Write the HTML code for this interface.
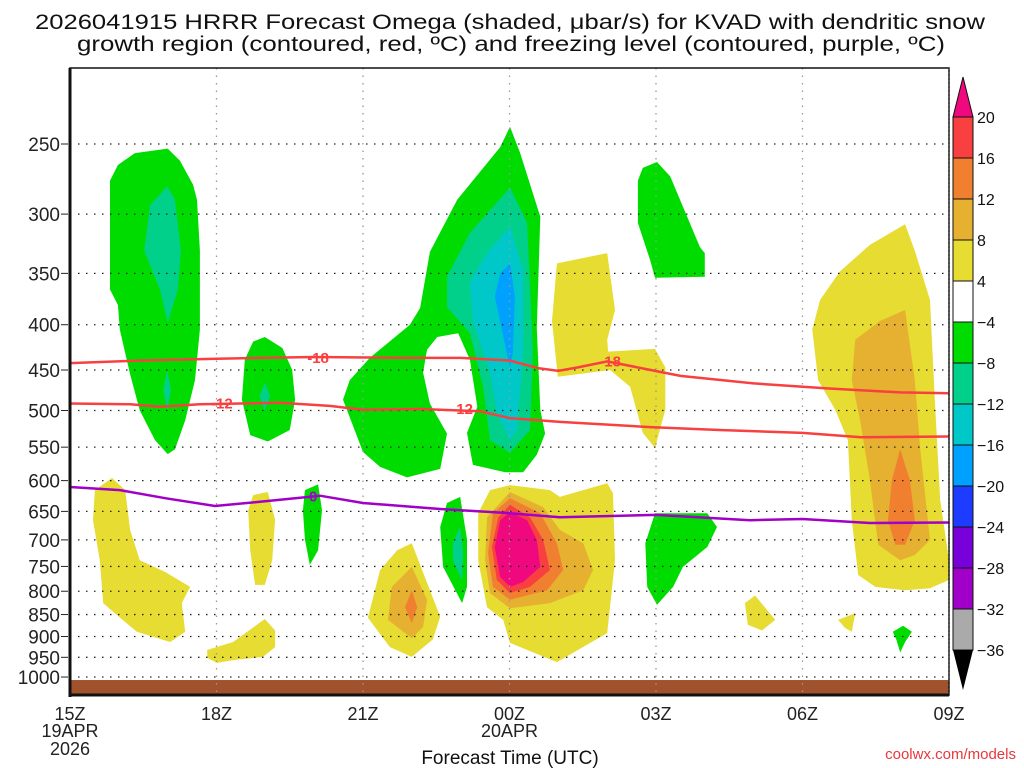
<!DOCTYPE html>
<html><head><meta charset="utf-8"><style>
html,body{margin:0;padding:0;background:#fff;}
svg{display:block;font-family:"Liberation Sans",sans-serif;}
</style></head><body>
<svg id="chart" width="1024" height="768" viewBox="0 0 1024 768" xmlns="http://www.w3.org/2000/svg">
<rect x="0" y="0" width="1024" height="768" fill="#fff"/>
<text x="510" y="29" text-anchor="middle" font-size="21" textLength="950" lengthAdjust="spacingAndGlyphs" fill="#111">2026041915 HRRR Forecast Omega (shaded, μbar/s) for KVAD with dendritic snow</text>
<text x="511" y="51" text-anchor="middle" font-size="21" textLength="868" lengthAdjust="spacingAndGlyphs" fill="#111">growth region (contoured, red, ºC) and freezing level (contoured, purple, ºC)</text>
<g id="fills"></g>
<g id="grid"></g>
<g id="lines"></g>
<g id="axes"></g>
<g id="cbar"></g>
<text x="510" y="764" text-anchor="middle" font-size="19" fill="#111">Forecast Time (UTC)</text>
<text x="1016" y="759" text-anchor="end" font-size="15" fill="#e8383c">coolwx.com/models</text>
</svg>
<script>
// ---- data ----
const pressureTicks = [250,300,350,400,450,500,550,600,650,700,750,800,850,900,950,1000];
const timeTicks = [0,3,6,9,12,15,18];
const timeLabels = ["15Z","18Z","21Z","00Z","03Z","06Z","09Z"];
const cbarLevels = ["20","16","12","8","4","\u22124","\u22128","\u221212","\u221216","\u221220","\u221224","\u221228","\u221232","\u221236"];
const cbarColors = ["#f84040","#f08030","#e6b030","#e6dc32","#ffffff","#00dc00","#00d08a","#00c8c8","#00a0ff","#1e3cff","#7800d8","#a000c8","#aaaaaa"];
const shadeColors = ["#e6dc32","#e6b030","#f08030","#f84040","#f0087e","#00dc00","#00d08a","#00c8c8","#00a0ff"];
const regionA = [[0.82,275],[0.98,264],[1.33,256],[2.0,253],[2.25,261],[2.52,278],[2.6,289],[2.66,330],[2.66,405],[2.56,462],[2.36,513],[2.15,553],[2.0,560],[1.74,540],[1.43,500],[1.23,455],[1.02,405],[0.98,380],[0.82,365]];
const regionA2 = [[1.99,279],[2.15,289],[2.27,330],[2.21,365],[2.0,398],[1.84,365],[1.52,330],[1.64,293]];
const regionA3 = [[1.99,450],[2.07,474],[1.99,499],[1.91,474]];
const regionB = [[3.58,438],[3.75,418],[3.99,413],[4.35,425],[4.55,450],[4.61,486],[4.5,526],[4.05,542],[3.69,533],[3.52,486]];
const regionB2 = [[3.99,465],[4.1,482],[3.99,500],[3.88,482]];
const regionC = [[9.01,239],[9.22,256],[9.63,302],[9.56,404],[9.63,499],[9.73,531],[9.56,561],[9.28,587],[8.91,587],[8.25,576],[8.13,530],[8.34,495],[8.19,438],[7.95,409],[7.52,413],[7.31,427],[7.23,453],[7.37,491],[7.72,531],[7.58,582],[6.9,595],[6.35,579],[6.0,557],[5.59,486],[5.73,462],[6.14,436],[6.96,400],[7.17,383],[7.37,331],[7.93,289],[8.81,252]];
const regionC2 = [[9.01,280],[9.36,307],[9.42,362],[9.48,430],[9.42,526],[9.01,558],[8.6,540],[8.46,470],[8.19,409],[7.72,382],[7.72,353],[8.19,315]];
const regionC3 = [[9.01,310],[9.28,348],[9.28,430],[9.15,526],[9.01,540],[8.74,503],[8.6,453],[8.25,396],[8.19,358],[8.54,332]];
const regionC4 = [[9.01,341],[9.11,372],[9.07,430],[9.01,447],[8.87,412],[8.7,372],[8.81,350]];
const regionD = [[12.02,262],[12.29,272],[12.9,327],[13.0,332],[13.0,353],[11.98,354],[11.88,338],[11.63,307],[11.63,275],[11.73,266]];
const regionE = [[9.97,341],[11.0,332],[11.16,385],[11.0,416],[11.02,429],[11.98,426],[12.19,447],[12.19,499],[11.98,551],[11.73,530],[11.47,470],[11.06,450],[9.99,458],[9.87,396]];
const regionF = [[15.36,375],[15.77,348],[16.38,325],[17.1,308],[17.3,330],[17.61,375],[17.71,486],[17.82,631],[18,738],[18,777],[17.61,794],[17.1,798],[16.49,791],[16.14,767],[16.01,665],[15.93,540],[15.67,499],[15.32,462],[15.2,405]];
const regionF2 = [[16.08,416],[16.59,396],[17.1,385],[17.3,462],[17.41,553],[17.61,700],[17.3,728],[17.0,738],[16.55,709],[16.38,599],[16.18,513],[16.01,462]];
const regionF3 = [[17.0,553],[17.2,599],[17.3,665],[17.1,709],[16.9,709],[16.75,665],[16.83,599]];
const regionG = [[0.51,615],[0.86,596],[1.13,615],[1.23,682],[1.43,738],[1.95,761],[2.46,791],[2.29,825],[2.36,889],[2.05,913],[1.37,889],[0.96,851],[0.68,825],[0.61,738],[0.47,665]];
const regionH = [[3.75,623],[4.05,618],[4.2,664],[4.14,738],[3.99,787],[3.79,787],[3.69,719],[3.65,648]];
const regionI = [[2.81,932],[3.34,913],[3.99,860],[4.2,886],[4.2,925],[3.95,949],[3.34,957],[3.01,964],[2.81,951]];
const regionJ = [[4.81,615],[5.08,606],[5.16,648],[5.08,719],[4.91,747],[4.81,699],[4.77,648]];
const regionK = [[7.0,706],[7.58,855],[7.43,907],[7.0,949],[6.55,925],[6.1,857],[6.35,757],[6.7,719]];
const regionK2 = [[7.0,751],[7.31,818],[7.23,878],[7.0,904],[6.51,862],[6.59,791]];
const regionK3 = [[7.0,798],[7.11,834],[7.0,869],[6.86,834]];
const regionL = [[7.99,626],[8.13,699],[8.13,791],[8.03,825],[7.64,751],[7.58,677],[7.72,636]];
const regionL2 = [[7.99,677],[8.05,725],[8.03,777],[7.84,738],[7.84,706]];
const regionM = [[8.6,615],[9.01,607],[9.83,615],[10.03,626],[11.0,604],[11.12,620],[11.16,738],[11.0,892],[9.97,962],[9.01,915],[8.87,862],[8.54,834],[8.36,738],[8.36,653]];
const regionM2 = [[9.01,618],[9.69,643],[10.03,682],[10.51,706],[10.71,757],[10.51,798],[9.83,825],[9.01,836],[8.6,804],[8.5,738],[8.54,660]];
const regionM3 = [[9.01,628],[9.63,653],[9.97,706],[10.1,757],[9.77,798],[9.01,818],[8.66,791],[8.56,725],[8.66,653]];
const regionM4 = [[9.01,639],[9.42,660],[9.69,700],[9.83,757],[9.42,791],[9.01,804],[8.74,777],[8.64,713],[8.77,660]];
const regionM5 = [[9.01,651],[9.36,665],[9.56,700],[9.63,751],[9.28,781],[9.01,791],[8.81,771],[8.7,713],[8.81,665]];
const regionN = [[11.98,653],[13.05,653],[13.25,677],[13.05,713],[12.55,751],[12.35,791],[12.02,829],[11.82,791],[11.78,706]];
const regionO = [[13.82,825],[14.03,809],[14.44,862],[14.17,886],[13.88,873]];
const regionP = [[15.73,862],[16.08,847],[16.01,889],[15.87,880]];
const regionQ = [[16.85,889],[17.06,875],[17.24,889],[17.1,913],[17.0,938],[16.92,907]];
const regionList = [
 ["upper-left-green",regionA,5],["upper-left-teal",regionA2,6],["upper-left-teal-small",regionA3,6],
 ["mid-left-green",regionB,5],["mid-left-teal",regionB2,6],
 ["central-green",regionC,5],["central-teal",regionC2,6],["central-cyan",regionC3,7],["central-blue",regionC4,8],
 ["upper-03z-green",regionD,5],["upper-yellow",regionE,0],
 ["right-yellow",regionF,0],["right-gold",regionF2,1],["right-orange",regionF3,2],
 ["lower-left-yellow",regionG,0],["small-yellow-19z",regionH,0],["bottom-yellow-18z",regionI,0],["small-green-20z",regionJ,5],
 ["yellow-22z",regionK,0],["gold-22z",regionK2,1],["orange-22z",regionK3,2],
 ["green-23z",regionL,5],["teal-23z",regionL2,6],
 ["core-yellow",regionM,0],["core-gold",regionM2,1],["core-orange",regionM3,2],["core-red",regionM4,3],["core-magenta",regionM5,4],
 ["lower-03z-green",regionN,5],["small-yellow-05z",regionO,0],["small-yellow-07z",regionP,0],["small-green-08z",regionQ,5]
];
const lineM18Hours = [0,1.5,3,5,7,8,9,9.6,10,10.4,11,11.8,12.5,14,15.5,17,18];
const lineM18Pres  = [442,439,437,435,436,436,439,448,451,447,440,449,457,466,472,477,478];
const lineM12Hours = [0,1.23,1.84,2.66,4.3,5.32,6,7.17,8.4,9,10.03,11.88,13.3,15,16.2,18];
const lineM12Pres  = [491,492,495,492,490,494,499,498,501,510,515,522,526,530,536,535];
const line0Hours = [0,1.02,1.95,2.97,3.89,5.12,6,7.58,9,10.03,12,13.93,15,16.38,18];
const line0Pres  = [610,615,628,641,634,624,636,646,653,660,656,665,663,670,669];
const lineLabels = [["-18",5.08,436,"#f84040"],["-18",11.06,440,"#f84040"],["-12",3.11,491,"#f84040"],["-12",8.03,498,"#f84040"],["0",4.98,625,"#a000c8"]];

const X0=70, X1=949, Y0=68, Y1=695;
const xs = h => X0 + (X1-X0)*h/18;
const ys = p => 144 + 384.5*Math.log(p/250);
const NS="http://www.w3.org/2000/svg";
function mk(tag, attrs, parent){const e=document.createElementNS(NS,tag);for(const k in attrs)e.setAttribute(k,attrs[k]);parent.appendChild(e);return e;}
const fills=document.getElementById('fills'), grid=document.getElementById('grid'), lines=document.getElementById('lines'), axes=document.getElementById('axes'), cbar=document.getElementById('cbar');
const clip = mk('clipPath',{id:'plotclip'},document.getElementById('chart'));
mk('rect',{x:X0,y:Y0,width:X1-X0,height:Y1-Y0},clip);
fills.setAttribute('clip-path','url(#plotclip)');
lines.setAttribute('clip-path','url(#plotclip)');

regionList.forEach(r=>{
  const el=mk('polygon',{points:r[1].map(v=>xs(v[0]).toFixed(1)+','+ys(v[1]).toFixed(1)).join(' '),fill:shadeColors[r[2]]},fills);
  
  
});
const g=mk('rect',{x:X0,y:ys(1000)+3,width:X1-X0,height:Y1-ys(1000)-3,fill:'#a0522d'},fills);



pressureTicks.forEach(p=>{
  const l=mk('line',{x1:X0,x2:X1,y1:ys(p),y2:ys(p),stroke:'#222','stroke-width':1.3,'stroke-dasharray':'1.5 6.5'},grid);
  
  
  const t=mk('text',{x:60,y:ys(p)+7,'text-anchor':'end','font-size':19,fill:'#222'},axes);
  t.textContent=p;
  
  
  const tk=mk('line',{x1:61,x2:68,y1:ys(p),y2:ys(p),stroke:'#222','stroke-width':1},axes);
  
  
});
timeTicks.forEach((h,i)=>{
  if(i>0&&i<timeTicks.length-1){
    const l=mk('line',{x1:xs(h),x2:xs(h),y1:Y0,y2:Y1,stroke:'#999','stroke-width':1.3,'stroke-dasharray':'1.5 6'},grid);
    
    
  }
  const t=mk('text',{x:xs(h),y:720,'text-anchor':'middle','font-size':18,fill:'#222'},axes);
  t.textContent=timeLabels[i];
  
  
});
[["19APR",0,737],["2026",0,755],["20APR",9,737]].forEach(d=>{
  const t=mk('text',{x:xs(d[1]),y:d[2],'text-anchor':'middle','font-size':18,fill:'#222'},axes);
  t.textContent=d[0];
  
  
});
function drawLine(hours,pres,color,name){
  const d=hours.map((h,i)=>(i?'L':'M')+xs(h).toFixed(1)+','+ys(pres[i]).toFixed(1)).join(' ');
  const el=mk('path',{d:d,fill:'none',stroke:color,'stroke-width':2.5},lines);
  
  
}
drawLine(lineM18Hours,lineM18Pres,'#f84040','isotherm-minus-18');
drawLine(lineM12Hours,lineM12Pres,'#f84040','isotherm-minus-12');
drawLine(line0Hours,line0Pres,'#a000c8','freezing-level-0');
lineLabels.forEach(L=>{
  const x=xs(L[1]), y=ys(L[2]);
  const t=mk('text',{x:x,y:y+5,'text-anchor':'middle','font-size':15,'font-weight':'bold',fill:L[3]},lines);
  t.textContent=L[0];
  
  
});
const fr=mk('rect',{x:X0,y:Y0,width:X1-X0,height:Y1-Y0,fill:'none',stroke:'#111','stroke-width':1.5},axes);


mk('line',{x1:X0,x2:X0,y1:Y0,y2:Y1+2,stroke:'#111','stroke-width':3},axes);
mk('line',{x1:X0,x2:X1,y1:Y1,y2:Y1,stroke:'#111','stroke-width':3},axes);
mk('line',{x1:X1,x2:X1,y1:Y0,y2:Y1,stroke:'#333','stroke-width':1,'stroke-dasharray':'2 2'},axes);

const CB0=117, CBH=41, CX=953, CW=20;
const tri=mk('polygon',{points:`${CX},${CB0} ${CX+CW},${CB0} ${CX+CW/2},${CB0-40}`,fill:'#f0087e',stroke:'#111'},cbar);


cbarColors.forEach((c,i)=>{
  const r=mk('rect',{x:CX,y:CB0+i*CBH,width:CW,height:CBH,fill:c,stroke:'#111','stroke-width':1},cbar);
  
  
});
const bot=CB0+cbarColors.length*CBH;
const tri2=mk('polygon',{points:`${CX},${bot} ${CX+CW},${bot} ${CX+CW/2},${bot+40}`,fill:'#000'},cbar);


cbarLevels.forEach((s,i)=>{
  const t=mk('text',{x:977,y:CB0+i*CBH+6,'font-size':16,fill:'#111'},cbar);
  t.textContent=s;
  
  
});
</script>
</body></html>
